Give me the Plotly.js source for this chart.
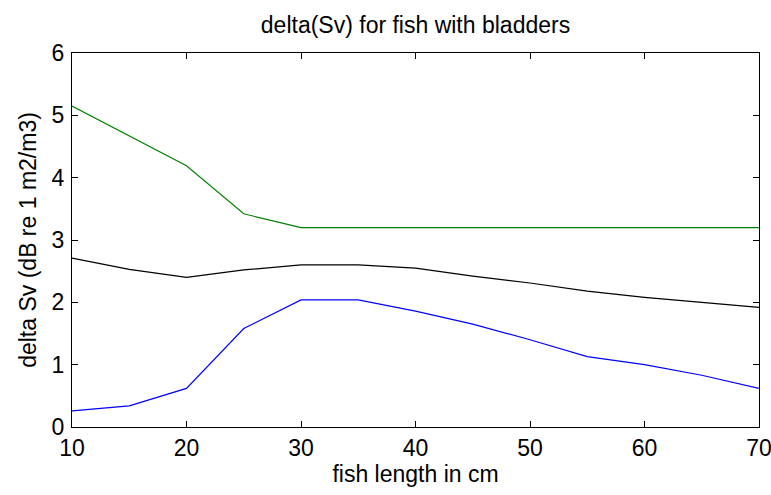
<!DOCTYPE html>
<html>
<head>
<meta charset="utf-8">
<script src="https://cdn.plot.ly/plotly-3.0.1.min.js"></script>
<style>html,body{margin:0;padding:0;background:#fff;}#chart{width:771px;height:495px;}</style>
</head>
<body>
<div id="chart"></div>
<script>
const fishLength = [10, 15, 20, 25, 30, 35, 40, 45, 50, 55, 60, 65, 70];
const greenSeries = [5.15, 4.67, 4.19, 3.42, 3.20, 3.20, 3.20, 3.20, 3.20, 3.20, 3.20, 3.20, 3.20];
const blackSeries = [2.71, 2.53, 2.40, 2.52, 2.60, 2.60, 2.55, 2.42, 2.31, 2.18, 2.08, 2.00, 1.92];
const blueSeries  = [0.26, 0.34, 0.62, 1.58, 2.04, 2.04, 1.86, 1.65, 1.40, 1.13, 1.00, 0.83, 0.62];
const xTicks = [10, 20, 30, 40, 50, 60, 70];
const yTicks = [0, 1, 2, 3, 4, 5, 6];

const font = {family: 'Liberation Sans, Arial, sans-serif', size: 23, color: '#000'};
const mk = (y, c) => ({x: fishLength, y: y, type: 'scatter', mode: 'lines', line: {color: c, width: 1.2}, showlegend: false, hoverinfo: 'skip'});

const data = [mk(greenSeries, '#008000'), mk(blackSeries, '#000000'), mk(blueSeries, '#0000ff')];

const axisCommon = {
  showline: true, linecolor: '#000', linewidth: 1, mirror: 'ticks',
  ticks: 'inside', ticklen: 6, tickwidth: 1, tickcolor: '#000',
  showgrid: false, zeroline: false, tickfont: font, ticklabeloverflow: 'allow'
};

const layout = {
  width: 771, height: 495,
  margin: {l: 72, r: 12, t: 53, b: 68},
  paper_bgcolor: '#fff', plot_bgcolor: '#fff',
  font: font,
  title: {text: 'delta(Sv) for fish with bladders', font: font, x: 0.5, xref: 'paper', y: 0.949, yref: 'container', yanchor: 'middle'},
  xaxis: Object.assign({}, axisCommon, {range: [10, 70], tickvals: xTicks, ticktext: xTicks.map(String), ticklabelstandoff: 0, title: {text: 'fish length in cm', font: font, standoff: 6}}),
  yaxis: Object.assign({}, axisCommon, {range: [0, 6], tickvals: yTicks, ticktext: yTicks.map(String), ticklabelstandoff: 2, title: {text: 'delta Sv (dB re 1 m2/m3)', font: font, standoff: 8}})
};

Plotly.newPlot('chart', data, layout, {staticPlot: true, displayModeBar: false});
</script>
</body>
</html>
